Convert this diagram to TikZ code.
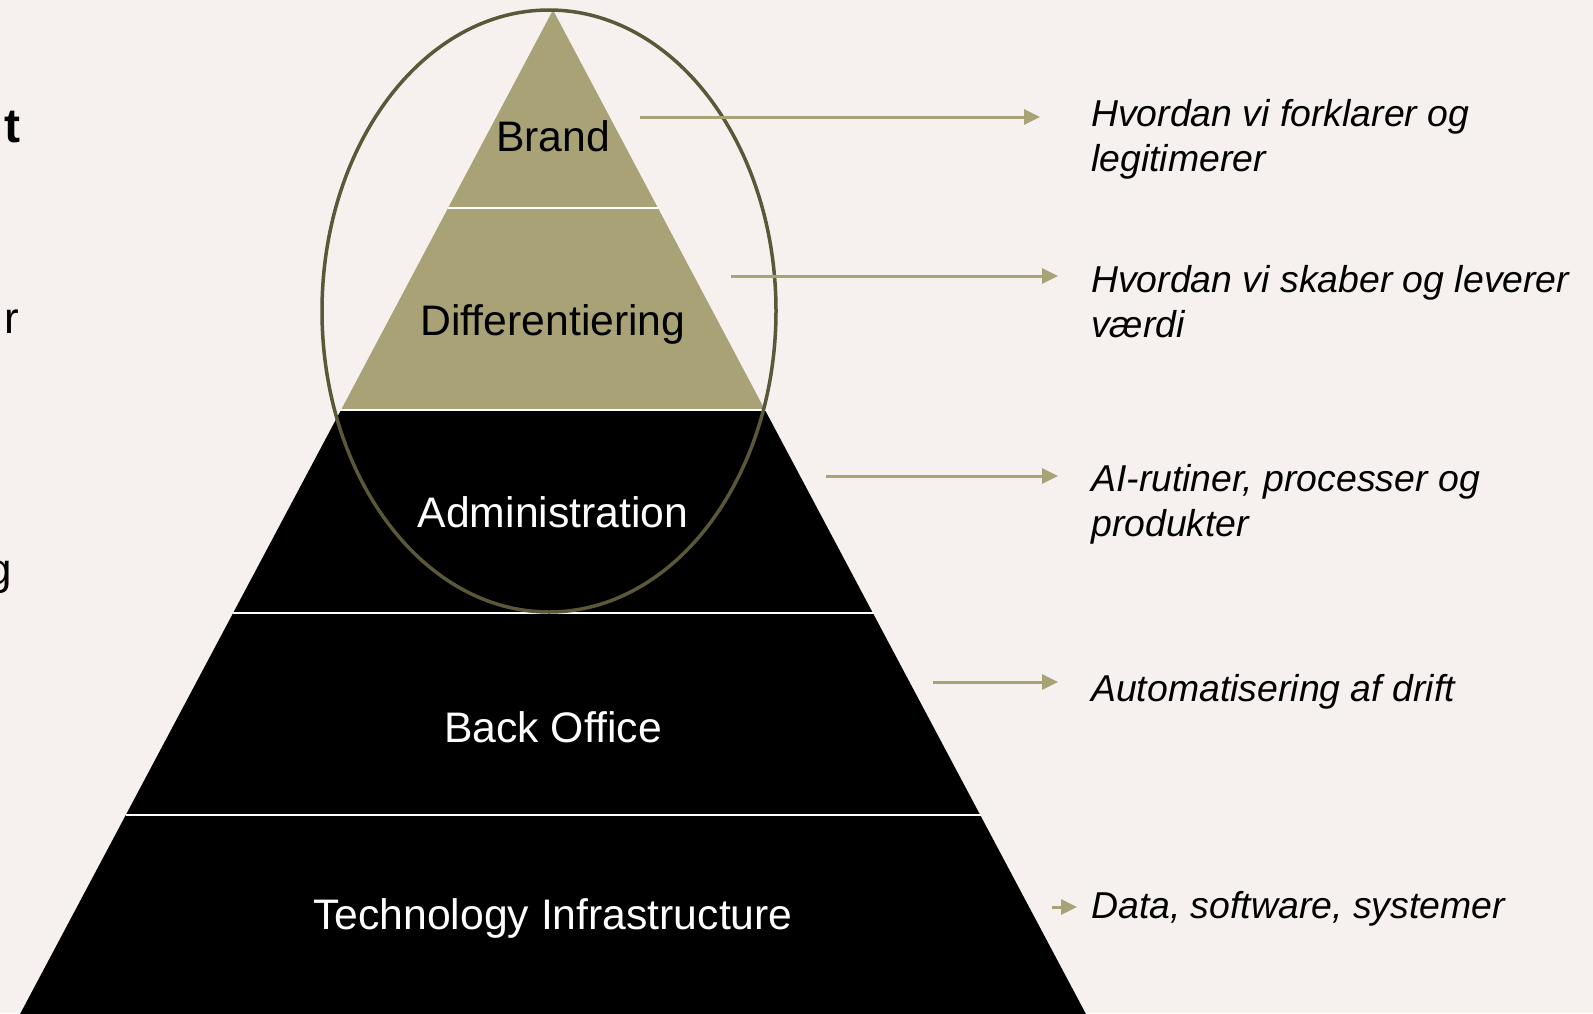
\documentclass[tikz,border=0pt]{standalone}
\usepackage{fontspec}
\setmainfont{Liberation Sans}
\usetikzlibrary{arrows.meta}
\definecolor{bg}{HTML}{F6F1EE}
\definecolor{tanc}{HTML}{A8A276}
\definecolor{olivec}{HTML}{5A5838}
\begin{document}
\begin{tikzpicture}[x=1pt,y=-1pt,
  lvl/.style={font=\fontsize{42.7}{50}\selectfont, inner sep=0pt, anchor=base},
  note/.style={font=\fontsize{37.4}{45}\selectfont\itshape, align=left, anchor=base west, inner sep=0pt},
  frag/.style={font=\fontsize{44}{52}\selectfont, inner sep=0pt, anchor=base east},
  sep/.style={draw=white, line width=2.5pt},
  arr/.style={draw=tanc, line width=3pt, -{Triangle[length=16pt,width=15pt]}}]
\fill[bg] (0,0) rectangle (1593,1013);
\useasboundingbox (0,0) rectangle (1593,1013);
\clip (0,0) rectangle (1593,1013);
% pyramid
\fill[tanc] (553,10) -- (765,410) -- (341,410) -- cycle;
\fill[black] (341,410) -- (765,410) -- (1087,1016) -- (19,1016) -- cycle;
\coordinate (s1l) at (448,208); \coordinate (s1r) at (658,208);
\coordinate (s2l) at (338,410); \coordinate (s2r) at (768,410);
\coordinate (s3l) at (233,613); \coordinate (s3r) at (874,613);
\coordinate (s4l) at (126,815); \coordinate (s4r) at (981,815);
\draw[sep] (s1l) -- (s1r);
\draw[sep] (s2l) -- (s2r);
\draw[sep] (s3l) -- (s3r);
\draw[sep] (s4l) -- (s4r);
% ellipse
\draw[olivec, line width=3.5pt] (549,311) ellipse [x radius=227, y radius=301];
% labels
\node[lvl] (brand) at (553,151) {Brand};
\node[lvl] (diff) at (553,335) {Differentiering};
\node[lvl, text=white] (admin) at (553,527) {Administration};
\node[lvl, text=white] (back) at (553,742) {Back Office};
\node[lvl, text=white] (tech) at (553,929) {Technology Infrastructure};
% notes
\node[note] (n1) at (1091,171) {Hvordan vi forklarer og\\legitimerer};
\node[note] (n2) at (1091,337) {Hvordan vi skaber og leverer\\værdi};
\node[note] (n3) at (1091,536) {AI-rutiner, processer og\\produkter};
\node[note] (n4) at (1091,701) {Automatisering af drift};
\node[note] (n5) at (1091,918) {Data, software, systemer};
% arrows
\coordinate (a1s) at (640,117); \coordinate (a1e) at (1040,117);
\coordinate (a2s) at (731,276); \coordinate (a2e) at (1058,276);
\coordinate (a3s) at (826,476); \coordinate (a3e) at (1058,476);
\coordinate (a4s) at (933,682); \coordinate (a4e) at (1058,682);
\coordinate (a5s) at (1052,907); \coordinate (a5e) at (1077,907);
\draw[arr] (a1s) -- (a1e);
\draw[arr] (a2s) -- (a2e);
\draw[arr] (a3s) -- (a3e);
\draw[arr] (a4s) -- (a4e);
\draw[arr] (a5s) -- (a5e);
% cut-off fragments at left edge
\node[frag, font=\fontsize{48}{56}\selectfont\bfseries] (f1) at (21,142) {t};
\node[frag] (f2) at (19,333) {r};
\node[frag] (f3) at (12,584) {g};
\end{tikzpicture}
\end{document}
